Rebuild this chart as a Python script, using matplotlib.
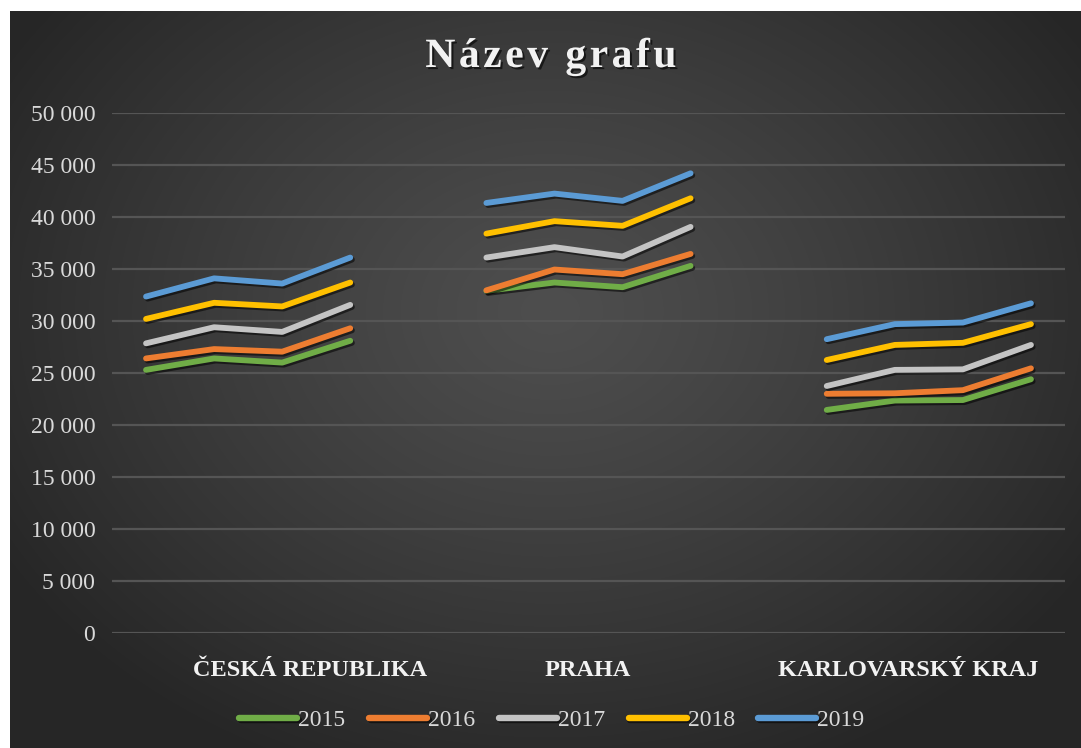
import numpy as np
import matplotlib
matplotlib.use("Agg")
import matplotlib.pyplot as plt
import matplotlib.patheffects as pe
from matplotlib.ticker import FuncFormatter

# data (4 points per region, one line per year)
regions = ["ČESKÁ REPUBLIKA", "PRAHA", "KARLOVARSKÝ KRAJ"]
years = ["2015", "2016", "2017", "2018", "2019"]
colors = ["#70AD47", "#ED7D31", "#C4C4C4", "#FFC000", "#5B9BD5"]

cr = [[25300, 26400, 26000, 28100],
      [26400, 27300, 27050, 29300],
      [27850, 29400, 28950, 31550],
      [30200, 31750, 31400, 33700],
      [32350, 34100, 33600, 36100]]
praha = [[32900, 33700, 33250, 35300],
         [32950, 34950, 34500, 36450],
         [36100, 37100, 36200, 39050],
         [38400, 39600, 39150, 41800],
         [41350, 42250, 41550, 44200]]
kv = [[21450, 22350, 22400, 24400],
      [23000, 23050, 23350, 25450],
      [23750, 25300, 25350, 27700],
      [26250, 27700, 27900, 29700],
      [28250, 29700, 29850, 31700]]

# build the 14-category series with blank cells between regions
series = []
for i in range(len(years)):
    vals = cr[i] + [np.nan] + praha[i] + [np.nan] + kv[i]
    series.append(np.array(vals, dtype=float))
x = np.arange(len(series[0]))

W, H = 1081, 748
fig = plt.figure(figsize=(W / 100, H / 100), dpi=100)
fig.patch.set_facecolor("white")

# dark radial gradient background (white strip on top and left)
bg = fig.add_axes([10 / W, 0, (W - 10) / W, (H - 11) / H], zorder=0)
yy, xx = np.mgrid[0:737, 0:1071]
r = np.sqrt(((xx - 540) / 640.0) ** 2 + ((yy - 300) / 500.0) ** 2)
r = np.clip(r, 0, 1)
c0, c1 = 0x4e / 255, 0x26 / 255
img = c0 + (c1 - c0) * r ** 1.2
bg.imshow(np.dstack([img, img, img]), aspect="auto", interpolation="bilinear")
bg.axis("off")

ax = fig.add_axes([112 / W, (H - 633) / H, 953 / W, 520 / H], zorder=1)
ax.patch.set_alpha(0)

serif = "Liberation Serif"
shadow = [pe.SimpleLineShadow(offset=(1.2, -1.5), shadow_color="black", alpha=0.55),
          pe.Normal()]
for i, yr in enumerate(years):
    ax.plot(x, series[i], color=colors[i], lw=4.2, solid_capstyle="round",
            solid_joinstyle="round", label=yr, path_effects=shadow)

ax.set_xlim(-0.5, 13.5)
ax.set_ylim(0, 50000)
ax.set_yticks(np.arange(0, 50001, 5000))
ax.yaxis.set_major_formatter(FuncFormatter(lambda v, p: f"{int(v):,}".replace(",", " ")))
ax.grid(axis="y", color="#555555", lw=1.6)
ax.set_axisbelow(True)
ax.tick_params(axis="y", length=0, pad=12, labelsize=17, labelcolor="#d9d9d9")
for lab in ax.get_yticklabels():
    lab.set_fontfamily(serif)
ax.set_xticks([])
for s in ax.spines.values():
    s.set_visible(False)

# region labels under each group
label_pos = [2.41, 6.49, 11.19]
for name, px in zip(regions, label_pos):
    ax.text(px, -0.073, name, transform=ax.get_xaxis_transform(), ha="center",
            va="center", fontsize=17.5, fontweight="bold", family=serif,
            color="#f2f2f2")

fig.text(551 / W, 1 - 57 / H, "N\u200aá\u200az\u200ae\u200av\u200a \u200ag\u200ar\u200aa\u200af\u200au",
         ha="center", va="center", fontsize=30, fontweight="bold", family=serif,
         color="#f2f2f2",
         path_effects=[pe.withSimplePatchShadow(offset=(1.5, -1.5), shadow_rgbFace="black", alpha=0.6)])

leg = ax.legend(loc="center", bbox_to_anchor=(552 / W, 1 - 720 / H),
                bbox_transform=fig.transFigure, ncol=5, frameon=False,
                handlelength=2.45, handletextpad=0.05, columnspacing=1.0,
                prop={"family": serif, "size": 17})
for t in leg.get_texts():
    t.set_color("#d9d9d9")
for h in leg.get_lines():
    h.set_linewidth(4.6)
    h.set_solid_capstyle("round")

fig.savefig("out.png", dpi=100)
